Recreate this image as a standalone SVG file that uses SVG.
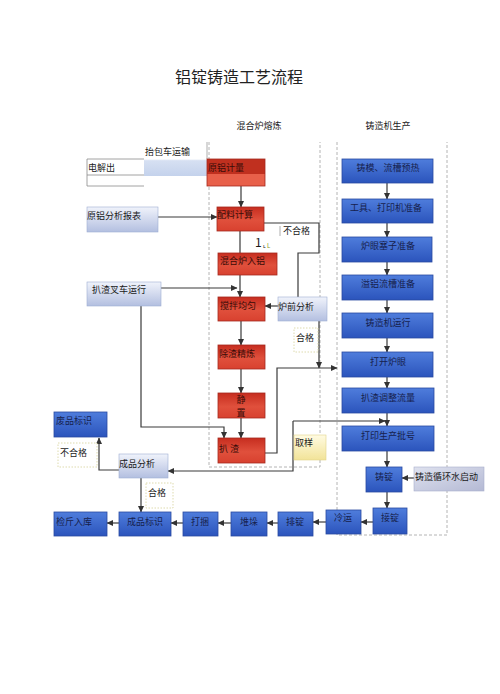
<svg xmlns="http://www.w3.org/2000/svg" width="500" height="694" viewBox="0 0 500 694">
<defs>
<linearGradient id="redG" x1="0" y1="0" x2="0" y2="1"><stop offset="0" stop-color="#c62d1f"/><stop offset="0.55" stop-color="#e0503c"/><stop offset="1" stop-color="#d8412f"/></linearGradient>
<linearGradient id="blueG" x1="0" y1="0" x2="0" y2="1"><stop offset="0" stop-color="#4f7ddc"/><stop offset="1" stop-color="#2b54bc"/></linearGradient>
<linearGradient id="lightG" x1="0" y1="0" x2="0" y2="1"><stop offset="0" stop-color="#f0f3fb"/><stop offset="1" stop-color="#b3bfe0"/></linearGradient>
<linearGradient id="grayG" x1="0" y1="0" x2="1" y2="1"><stop offset="0" stop-color="#dfe2ef"/><stop offset="1" stop-color="#b4b9d4"/></linearGradient>
<linearGradient id="yellowG" x1="0" y1="0" x2="0" y2="1"><stop offset="0" stop-color="#fffbe2"/><stop offset="1" stop-color="#f2e398"/></linearGradient>
<linearGradient id="carryG" x1="0" y1="0" x2="0" y2="1"><stop offset="0" stop-color="#ffffff"/><stop offset="0.5" stop-color="#ffffff"/><stop offset="0.55" stop-color="#d6e0f2"/><stop offset="1" stop-color="#c4d2ec"/></linearGradient>
<marker id="arr" markerUnits="userSpaceOnUse" markerWidth="7" markerHeight="7" refX="6" refY="3.5" orient="auto"><path d="M0,0.5 L6.5,3.5 L0,6.5 Z" fill="#333"/></marker>
</defs>
<style>
text{font-family:"Noto Sans CJK SC","Noto Sans",sans-serif;font-size:9px;fill:#1a1a1a}
.t{font-size:16px;fill:#222}
.red{fill:url(#redG);stroke:#a52a1e;stroke-width:0.8}
.blue{fill:url(#blueG);stroke:#2a4aa0;stroke-width:0.8}
.light{fill:url(#lightG);stroke:#9fadd2;stroke-width:0.6}
.gray{fill:url(#grayG);stroke:#a8aecb;stroke-width:0.6}
.yel{fill:url(#yellowG);stroke:#e2d48a;stroke-width:0.6}
.dot{fill:#fff;stroke:#d6d29a;stroke-width:0.8;stroke-dasharray:1.5,1.5}
.lane{fill:none;stroke:#b4b4b4;stroke-width:1;stroke-dasharray:3,2}
.c{fill:none;stroke:#3a3a3a;stroke-width:1.2}
.ca{fill:none;stroke:#3a3a3a;stroke-width:1.2;marker-end:url(#arr)}
.rt{fill:#3a0c08}
.bt{fill:#16214d}
.mid{text-anchor:middle}
</style>
<rect width="500" height="694" fill="#fff"/>
<text class="t mid" x="239" y="83">铝锭铸造工艺流程</text>
<text class="mid" x="259" y="129">混合炉熔炼</text>
<text class="mid" x="388" y="129">铸造机生产</text>
<g id="lanes">
<path class="lane" d="M209,142 V467 H320 V142"/>
<path class="lane" d="M337,142 V535 H447 V142"/>
</g>
<g id="connectors">
<path class="ca" d="M158,217 H217"/>
<path class="ca" d="M241,186 V207"/>
<path class="c" d="M240,231 V253"/>
<path class="c" d="M298,297 V253 H319 V223 H264"/>
<path class="ca" d="M240,275 V297"/>
<path class="ca" d="M161,288 H237"/>
<path class="ca" d="M141,306 V427 H224 V438"/>
<path class="ca" d="M278,306 H265"/>
<path class="ca" d="M319,321 V368"/>
<path class="ca" d="M241,321 V345"/>
<path class="ca" d="M241,369 V393"/>
<path class="ca" d="M241,418 V438"/>
<path class="ca" d="M265,453 H277 V368 H337"/>
<path class="ca" d="M293,421 H385"/>
<path class="ca" d="M293,421 V471 H168"/>
<path class="ca" d="M387,183 V199"/>
<path class="ca" d="M387,223 V237"/>
<path class="ca" d="M387,262 V275"/>
<path class="ca" d="M387,300 V313"/>
<path class="ca" d="M387,338 V352"/>
<path class="ca" d="M387,377 V388"/>
<path class="ca" d="M387,413 V426"/>
<path class="ca" d="M387,451 V467"/>
<path class="ca" d="M414,478 H402"/>
<path class="ca" d="M387,492 V508"/>
<path class="ca" d="M373,522 H361"/>
<path class="ca" d="M326,522 H313"/>
<path class="ca" d="M278,523 H267"/>
<path class="ca" d="M231,523 H218"/>
<path class="ca" d="M183,523 H171"/>
<path class="ca" d="M119,523 H107"/>
<path class="ca" d="M141,478 V512"/>
<path class="ca" d="M119,470 H99 V438"/>
</g>
<g id="n-dianjie"><path d="M144,159 H87 V186 H144 M87,175 H144" fill="none" stroke="#8a8a8a" stroke-width="0.8"/><text x="88" y="171">电解出</text></g>
<g id="n-taibao"><rect x="144" y="142" width="63" height="34" fill="url(#carryG)"/><path d="M207,142 V159" stroke="#9a9a9a" stroke-width="0.8"/><text x="145" y="155">抬包车运输</text></g>
<g id="n-yuanlv"><rect x="207" y="159" width="58" height="15" fill="#c0301f"/><rect x="207" y="174" width="58" height="12" fill="#e8604a"/><rect x="207" y="159" width="58" height="27" fill="none" stroke="#a52a1e" stroke-width="0.8"/><text class="rt" x="208" y="171">原铝计量</text></g>
<g id="n-fenxi"><rect class="light" x="87" y="207" width="71" height="25"/><text x="87" y="219">原铝分析报表</text></g>
<g id="n-peiliao"><rect class="red" x="217" y="207" width="47" height="24"/><text class="rt" x="217" y="218">配料计算</text></g>
<g id="n-buhege1"><path d="M280,226 V236" stroke="#999" stroke-width="0.8"/><text x="283" y="234">不合格</text><text x="255" y="247" style="font-size:12px">1</text><text x="263" y="248" style="font-size:6px">ʟ <tspan fill="#8a9a20">L</tspan></text></g>
<g id="n-ruLv"><rect class="red" x="218" y="253" width="59" height="22"/><text class="rt" x="220" y="264">混合炉入铝</text></g>
<g id="n-chache"><rect class="light" x="87" y="282" width="74" height="24"/><text x="92" y="293">扒渣叉车运行</text></g>
<g id="n-jiaoban"><rect class="red" x="218" y="297" width="47" height="24"/><text class="rt" x="220" y="309">搅拌均匀</text></g>
<g id="n-luqian"><rect class="light" x="278" y="297" width="49" height="24"/><text x="278" y="310">炉前分析</text></g>
<g id="n-hege1"><rect class="dot" x="294" y="328" width="24" height="24"/><text x="296" y="341">合格</text></g>
<g id="n-chuzha"><rect class="red" x="218" y="345" width="47" height="24"/><text class="rt" x="219" y="357">除渣精炼</text></g>
<g id="n-jingzhi"><rect class="red" x="218" y="393" width="47" height="25"/><text class="rt mid" x="241" y="403">静</text><text class="rt mid" x="241" y="415.5">置</text></g>
<g id="n-pazha"><rect class="red" x="218" y="438" width="47" height="25"/><text class="rt" x="219" y="452">扒 渣</text></g>
<g id="n-quyang"><rect class="yel" x="294" y="435" width="32" height="25"/><text x="295" y="446" fill="#555">取样</text></g>
<g id="n-zhumo"><rect class="blue" x="342" y="159" width="91" height="24"/><text class="bt mid" x="388" y="171">铸模、流槽预热</text></g>
<g id="n-gongju"><rect class="blue" x="342" y="199" width="91" height="24"/><text class="bt mid" x="386" y="211">工具、打印机准备</text></g>
<g id="n-luyan"><rect class="blue" x="342" y="237" width="90" height="25"/><text class="bt mid" x="388" y="249">炉眼塞子准备</text></g>
<g id="n-yilv"><rect class="blue" x="342" y="275" width="91" height="25"/><text class="bt mid" x="388" y="287">溢铝流槽准备</text></g>
<g id="n-zhuzaoji"><rect class="blue" x="342" y="313" width="91" height="25"/><text class="bt mid" x="388" y="326">铸造机运行</text></g>
<g id="n-dakai"><rect class="blue" x="342" y="352" width="91" height="25"/><text class="bt mid" x="388" y="365">打开炉眼</text></g>
<g id="n-tiaozheng"><rect class="blue" x="342" y="388" width="92" height="25"/><text class="bt mid" x="388" y="401">扒渣调整流量</text></g>
<g id="n-dayin"><rect class="blue" x="342" y="426" width="92" height="25"/><text class="bt mid" x="388" y="439">打印生产批号</text></g>
<g id="n-zhuding"><rect class="blue" x="366" y="467" width="36" height="25"/><text class="bt mid" x="384" y="480">铸锭</text></g>
<g id="n-xunhuan"><rect class="gray" x="414" y="467" width="70" height="24"/><text x="415" y="480">铸造循环水启动</text></g>
<g id="n-jieding"><rect class="blue" x="373" y="508" width="34" height="26"/><text class="bt mid" x="390" y="521">接锭</text></g>
<g id="n-lengyun"><rect class="blue" x="326" y="510" width="35" height="24"/><text class="bt mid" x="343" y="521">冷运</text></g>
<g id="n-paiding"><rect class="blue" x="278" y="512" width="35" height="24"/><text class="bt mid" x="295" y="525">排锭</text></g>
<g id="n-duiduo"><rect class="blue" x="231" y="512" width="36" height="24"/><text class="bt mid" x="249" y="525">堆垛</text></g>
<g id="n-dakun"><rect class="blue" x="183" y="512" width="35" height="24"/><text class="bt mid" x="200" y="525">打捆</text></g>
<g id="n-biaoshi"><rect class="blue" x="119" y="512" width="52" height="24"/><text class="bt mid" x="145" y="525">成品标识</text></g>
<g id="n-jianjin"><rect class="blue" x="54" y="512" width="53" height="24"/><text class="bt" x="56" y="525">检斤入库</text></g>
<g id="n-chengpin"><rect class="light" x="119" y="454" width="49" height="24"/><text x="119" y="467">成品分析</text></g>
<g id="n-hege2"><rect class="dot" x="146" y="483" width="27" height="25"/><text x="148" y="496">合格</text></g>
<g id="n-feipin"><rect class="blue" x="54" y="412" width="53" height="25"/><text class="bt" x="56" y="424">废品标识</text></g>
<g id="n-buhege2"><rect class="dot" x="58" y="443" width="39" height="24"/><text x="60" y="456">不合格</text></g>
</svg>
